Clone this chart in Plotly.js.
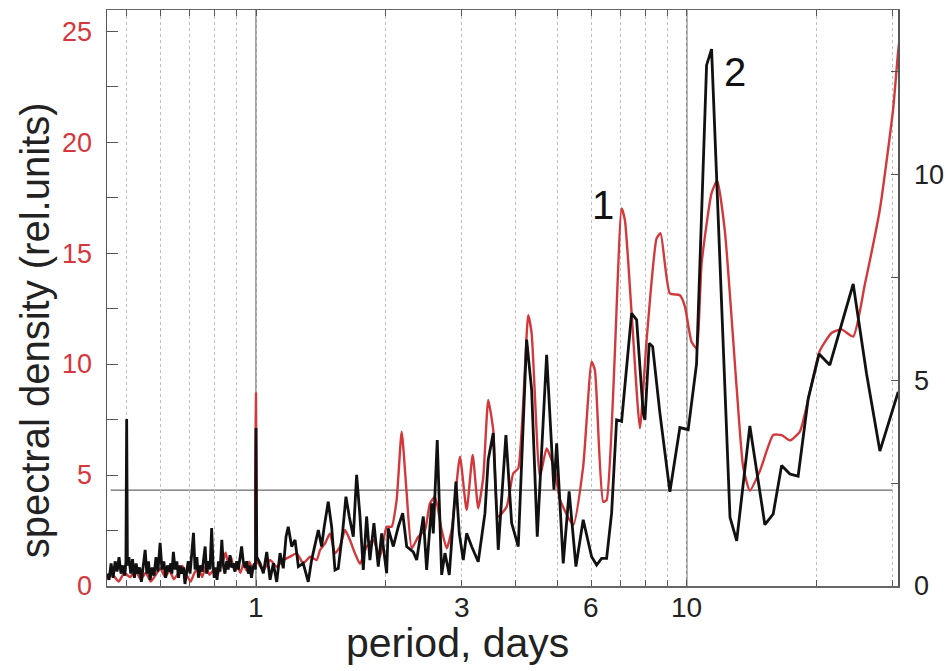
<!DOCTYPE html>
<html>
<head>
<meta charset="utf-8">
<script src="https://cdn.plot.ly/plotly-3.0.1.min.js"></script>
<style>html,body{margin:0;padding:0;background:#fff;}#chart{width:948px;height:671px;}</style>
</head>
<body>
<div id="chart"></div>
<script>
// Series 1 (red, left axis)
var redPeriod = [0.451,0.465,0.48,0.495,0.51,0.525,0.54,0.555,0.57,0.585,0.6,0.615,0.63,0.645,0.66,0.675,0.69,0.705,0.72,0.735,0.75,0.765,0.78,0.795,0.81,0.825,0.84,0.85,0.86,0.875,0.89,0.905,0.92,0.935,0.95,0.965,0.98,0.995,1.0,
1.004,1.04,1.078,1.117,1.157,1.199,1.243,1.287,1.335,1.383,1.408,1.446,1.485,1.525,1.566,1.609,1.652,1.697,1.743,1.806,1.871,1.94,2.01,2.064,2.12,2.178,2.237,2.298,2.38,2.467,2.533,2.602,2.697,2.77,2.845,2.974,3.082,3.183,3.279,3.369,3.459,3.553,3.649,3.817,3.954,4.061,4.283,4.362,4.56,4.726,4.94,5.073,5.447,5.745,6.01,6.116,6.393,6.512,7.055,7.18,7.443,7.78,8.064,8.505,8.688,9.132,9.633,9.894,10.25,10.53,10.82,11.41,11.76,12.25,13.05,13.51,14.0,14.77,15.86,16.59,17.34,18.29,19.29,20.35,21.66,22.85,24.32,25.88,28.05,30.11,30.93,31.5];
var redValue = [0.3,0.5,0.2,0.6,0.4,0.7,0.3,0.6,0.2,0.5,0.8,0.4,0.7,0.3,0.6,0.9,0.5,0.2,0.6,0.8,0.4,0.9,0.5,0.7,0.4,0.8,1.2,1.5,1.1,1.3,0.7,0.9,0.6,1.0,0.7,1.1,0.8,1.0,8.68,
1.17,0.72,1.17,0.87,1.17,1.32,1.47,1.02,1.32,1.17,1.62,1.92,2.37,1.47,1.77,2.52,2.07,1.47,1.0,1.77,2.07,1.32,2.67,2.67,3.87,6.95,4.18,1.7,2.22,2.52,3.72,4.02,2.52,1.7,2.52,5.82,3.42,5.9,3.5,4.92,8.38,7.03,3.12,3.57,5.08,5.3,12.2,11.38,4.92,6.2,5.2,3.9,2.75,5.38,10.1,9.73,3.8,3.87,17.01,16.49,12.28,7.1,11.08,15.66,15.89,13.18,13.1,12.6,11.0,10.7,14.55,17.7,18.27,16.0,8.9,5.35,4.3,5.18,6.8,6.8,6.56,6.96,8.74,10.6,11.4,11.56,11.24,13.58,16.97,21.49,24.1,25.3];

// Series 2 (black, right axis)
var blackPeriod = [0.451,0.456,0.461,0.466,0.471,0.476,0.481,0.486,0.491,0.496,0.499,0.501,0.503,0.507,0.512,0.517,0.522,0.527,0.532,0.537,0.542,0.547,0.553,0.558,0.563,0.568,0.574,0.58,0.586,0.592,0.599,0.605,0.611,0.617,0.623,0.629,0.634,0.638,0.643,0.649,0.655,0.661,0.667,0.673,0.679,0.684,0.69,0.696,0.703,0.709,0.716,0.722,0.729,0.735,0.742,0.75,0.756,0.762,0.768,0.775,0.782,0.789,0.795,0.8,0.806,0.812,0.818,0.825,0.833,0.84,0.847,0.855,0.862,0.87,0.878,0.886,0.894,0.902,0.91,0.918,0.926,0.934,0.943,0.951,0.96,0.968,0.976,0.984,0.992,0.997,1.0,
1.004,1.022,1.04,1.059,1.078,1.097,1.117,1.137,1.157,1.174,1.188,1.21,1.232,1.254,1.287,1.322,1.346,1.37,1.395,1.42,1.438,1.471,1.498,1.525,1.552,1.589,1.617,1.646,1.682,1.712,1.743,1.774,1.806,1.838,1.878,1.922,1.957,2.01,2.027,2.083,2.139,2.19,2.237,2.317,2.36,2.445,2.489,2.557,2.579,2.634,2.697,2.745,2.809,2.911,2.963,3.027,3.082,3.166,3.279,3.399,3.459,3.553,3.649,3.802,3.92,4.061,4.247,4.362,4.495,4.726,4.914,4.986,5.164,5.33,5.527,5.746,6.01,6.173,6.34,6.512,6.688,6.869,7.055,7.443,7.644,7.919,7.991,8.177,8.327,8.657,9.132,9.633,10.07,10.53,11.11,11.41,12.59,13.05,14.0,15.17,15.86,16.59,17.34,18.12,19.12,20.27,21.46,24.32,26.12,28.05,30.93];
var blackValue = [0.3,0.15,0.55,0.2,0.6,0.35,0.7,0.3,0.5,0.25,0.6,4.06,0.5,0.7,0.3,0.65,0.2,0.55,0.3,0.45,0.1,0.5,0.88,0.3,0.6,0.15,0.45,0.25,0.7,0.35,1.05,0.4,0.6,0.2,0.5,0.35,0.55,0.3,0.83,0.4,0.6,0.2,0.5,0.3,0.45,0.05,0.4,0.6,0.3,0.75,1.29,0.4,0.7,0.2,0.5,0.35,0.6,0.96,0.3,0.6,0.4,1.41,0.5,0.2,0.45,0.15,0.6,0.35,1.12,0.5,0.3,0.6,0.4,0.75,0.45,0.55,0.35,0.6,0.4,0.7,0.96,0.6,0.45,0.6,0.3,0.5,0.2,0.45,0.55,0.4,3.84,
0.71,0.55,0.31,0.83,0.15,0.55,0.1,0.8,0.43,1.2,1.44,0.96,1.12,0.47,0.55,0.1,0.63,0.96,1.36,0.96,1.4,2.05,1.44,0.39,0.43,1.32,2.17,1.69,1.2,2.7,1.69,0.39,1.69,0.63,1.53,0.47,1.28,0.31,1.4,0.96,1.44,1.77,0.96,0.83,0.63,1.69,0.39,2.01,1.28,3.55,0.27,0.8,0.27,2.54,1.28,0.63,1.28,0.96,0.59,1.77,3.07,3.72,0.88,3.67,1.53,0.96,5.99,4.77,1.2,5.62,2.34,3.47,0.55,2.3,0.47,1.61,0.71,0.51,0.67,0.67,1.77,4.04,4.0,6.63,6.47,4.2,4.04,5.9,5.82,4.2,2.29,3.85,3.8,5.4,12.66,13.05,1.67,1.1,3.89,1.49,1.75,2.93,2.72,2.67,4.55,5.64,5.37,7.34,5.16,3.28,4.72];

// Axis ticks
var xTickVals = [0.5,0.6,0.7,0.8,0.9,1,2,3,4,5,6,7,8,9,10,20,30];
var xTickText = ['','','','','','1','','3','','','6','','','','10','',''];
var thresholdLevel = 4.32;
var labelText = ['1','2'];
var labelPeriod = [6.38, 12.93];
var labelLevel = [17.16, 23.15];
var xTitle = 'period, days';
var yTitle = 'spectral density (rel.units)';

var FONT = 'Liberation Sans, Arial, Helvetica, sans-serif';
var RED = '#d3393c';

var traces = [
  {x: redPeriod, y: redValue, type: 'scatter', mode: 'lines', yaxis: 'y',
   line: {color: RED, width: 2.4, shape: 'spline', smoothing: 0.5}, hoverinfo: 'skip'},
  {x: blackPeriod, y: blackValue, type: 'scatter', mode: 'lines', yaxis: 'y2',
   line: {color: '#111111', width: 2.8}, hoverinfo: 'skip'}
];

var annots = labelText.map(function(t, i) {
  return {text: t, x: Math.log10(labelPeriod[i]), y: labelLevel[i], xref: 'x', yref: 'y',
          showarrow: false, font: {size: 40, color: '#111', family: FONT}};
});
// x tick labels (drawn as text at the tick positions)
xTickVals.forEach(function(v, i) {
  if (!xTickText[i]) return;
  annots.push({text: xTickText[i], x: Math.log10(v), y: -0.0365, xref: 'x', yref: 'paper',
               xanchor: 'center', yanchor: 'middle', showarrow: false,
               font: {size: 28, color: '#222', family: FONT}});
});
annots.push({text: xTitle, xref: 'paper', yref: 'paper', x: 0.4437, y: -0.099,
             xanchor: 'center', yanchor: 'middle', showarrow: false,
             font: {size: 41, color: '#222', family: FONT}});
annots.push({text: yTitle, xref: 'paper', yref: 'paper', x: -0.091, y: 0.444, textangle: -90,
             xanchor: 'center', yanchor: 'middle', showarrow: false,
             font: {size: 40, color: '#222', family: FONT}});

var layout = {
  width: 948, height: 671,
  margin: {l: 107, r: 50, t: 10, b: 85},
  paper_bgcolor: '#ffffff', plot_bgcolor: '#ffffff',
  showlegend: false,
  font: {family: FONT, color: '#222'},
  xaxis: {
    type: 'log',
    range: [Math.log10(0.451), Math.log10(30.9)],
    tickvals: xTickVals, ticktext: xTickText, showticklabels: false,
    ticks: 'inside', ticklen: 6, tickcolor: '#555', tickwidth: 1,
    showline: true, linecolor: '#666', linewidth: 1.5, mirror: 'ticks',
    showgrid: true, gridcolor: '#bdbdbd', griddash: 'dot', gridwidth: 1,
    zeroline: false
  },
  yaxis: {
    range: [0, 25.95],
    dtick: 5, tick0: 0,
    ticks: 'inside', ticklen: 11, tickcolor: '#555', tickwidth: 1,
    minor: {dtick: 2.5, ticks: 'inside', ticklen: 11, tickcolor: '#555', showgrid: false},
    showline: true, linecolor: '#555', linewidth: 1.5,
    showgrid: false, zeroline: false,
    tickfont: {size: 27, color: '#d6373d', family: FONT},
    ticklabelstandoff: 8
  },
  yaxis2: {
    overlaying: 'y', side: 'right',
    range: [0, 14.0],
    dtick: 5, tick0: 0,
    ticks: 'inside', ticklen: 7, tickcolor: '#555', tickwidth: 1,
    minor: {dtick: 2.5, ticks: 'inside', ticklen: 7, tickcolor: '#555', showgrid: false},
    showline: true, linecolor: '#555', linewidth: 1.5,
    showgrid: false, zeroline: false,
    tickfont: {size: 27, color: '#222', family: FONT},
    ticklabelstandoff: 9
  },
  shapes: [
    {type: 'line', xref: 'x', yref: 'paper', x0: 1, x1: 1, y0: 0, y1: 1, line: {color: '#444', width: 1}, layer: 'below'},
    {type: 'line', xref: 'x', yref: 'paper', x0: 10, x1: 10, y0: 0, y1: 1, line: {color: '#444', width: 1}, layer: 'below'},
    {type: 'line', xref: 'x', yref: 'y', x0: 0.46, x1: 30, y0: thresholdLevel, y1: thresholdLevel, line: {color: '#444', width: 1}, layer: 'below'}
  ],
  annotations: annots
};

Plotly.newPlot('chart', traces, layout, {staticPlot: true, displayModeBar: false});
</script>
</body>
</html>
